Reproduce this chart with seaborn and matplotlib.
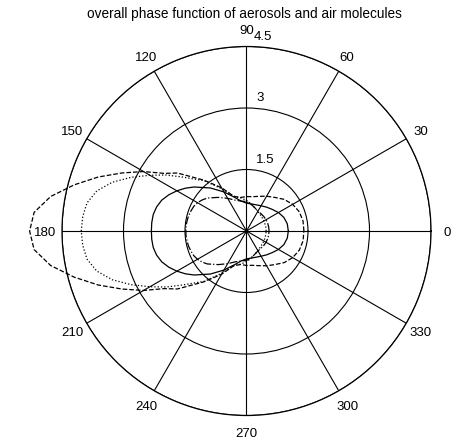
import numpy as np
import matplotlib
matplotlib.use("Agg")
import matplotlib.pyplot as plt
import seaborn as sns
import pandas as pd

sns.set_style("white")
plt.rcParams['font.family'] = ['Liberation Sans', 'DejaVu Sans']

title = "overall phase function of aerosols and air molecules"

# angles in degrees (denser sampling around 180 deg)
angles_deg = [0, 10, 20, 30, 40, 50, 60, 70, 80, 90, 100, 110, 120, 130, 140,
              145, 150, 155, 160, 165, 170, 175, 180, 185, 190, 195, 200, 205, 210, 215,
              220, 230, 240, 250, 260, 270, 280, 290, 300, 310, 320, 330, 340, 350]

solid_r = [1.02, 1.01, 0.97, 0.90, 0.82, 0.76, 0.71, 0.68, 0.67, 0.68, 0.74, 0.88, 1.10, 1.37, 1.67,
           1.82, 1.96, 2.09, 2.20, 2.27, 2.31, 2.32, 2.32, 2.32, 2.31, 2.27, 2.20, 2.09, 1.96, 1.82,
           1.67, 1.37, 1.10, 0.88, 0.74, 0.68, 0.67, 0.68, 0.71, 0.76, 0.82, 0.90, 0.97, 1.01]

dashed_r = [1.40, 1.40, 1.37, 1.30, 1.20, 1.07, 0.98, 0.90, 0.85, 0.84, 0.83, 0.90, 1.22, 1.62, 2.20,
            2.45, 2.90, 3.35, 3.85, 4.35, 4.85, 5.20, 5.29, 5.20, 4.85, 4.35, 3.85, 3.35, 2.90, 2.45,
            2.20, 1.62, 1.22, 0.90, 0.83, 0.84, 0.85, 0.90, 0.98, 1.07, 1.20, 1.30, 1.37, 1.40]

dotted_r = [0.48, 0.48, 0.48, 0.49, 0.50, 0.52, 0.55, 0.60, 0.67, 0.75, 0.82, 0.90, 1.18, 1.60, 2.05,
            2.38, 2.72, 3.10, 3.48, 3.78, 3.95, 4.01, 4.03, 4.01, 3.95, 3.78, 3.48, 3.10, 2.72, 2.38,
            2.05, 1.60, 1.18, 0.90, 0.82, 0.75, 0.67, 0.60, 0.55, 0.52, 0.50, 0.49, 0.48, 0.48]

dashdot_r = [0.55, 0.55, 0.55, 0.55, 0.55, 0.55, 0.56, 0.60, 0.66, 0.72, 0.74, 0.80, 0.92, 1.07, 1.25,
             1.32, 1.38, 1.42, 1.44, 1.46, 1.47, 1.48, 1.48, 1.48, 1.47, 1.46, 1.44, 1.42, 1.38, 1.32,
             1.25, 1.07, 0.92, 0.80, 0.74, 0.72, 0.66, 0.60, 0.56, 0.55, 0.55, 0.55, 0.55, 0.55]

ring_ticks = [1.5, 3.0, 4.5]
ring_labels = ["1.5", "3", "4.5"]
spoke_angles = [0, 30, 60, 90, 120, 150, 180, 210, 240, 270, 300, 330]
spoke_labels = ["0", "30", "60", "90", "120", "150", "180", "210", "240", "270", "300", "330"]

W, H, DPI = 452, 440, 100
fig = plt.figure(figsize=(W / DPI, H / DPI), dpi=DPI)
fig.patch.set_facecolor("white")

cx, cy, R = 246.5, 231.0, 184.5
ax = fig.add_axes([(cx - R) / W, (H - cy - R) / H, 2 * R / W, 2 * R / H], projection="polar")
ax.set_facecolor("white")

rmax = ring_ticks[-1]
ax.set_rlim(0, rmax)
ax.set_rticks(ring_ticks)
ax.set_yticklabels([])
ax.set_thetagrids(spoke_angles, [""] * len(spoke_angles))
ax.grid(True, color="black", linewidth=0.8, linestyle="-")
ax.spines["polar"].set_color("black")
ax.spines["polar"].set_linewidth(0.9)
ax.tick_params(length=0)

series = [("solid", solid_r, "-"), ("dashed", dashed_r, "--"),
          ("dotted", dotted_r, ":"), ("dashdot", dashdot_r, "-.")]
for name, vals, ls in series:
    th = np.deg2rad(angles_deg + [360])
    rr = vals + [vals[0]]
    df = pd.DataFrame({"theta": th, "r": rr})
    n_before = len(ax.lines)
    sns.lineplot(data=df, x="theta", y="r", ax=ax, sort=False, color="black",
                 linewidth=0.9, linestyle=ls, legend=False)
    for ln in ax.lines[n_before:]:
        ln.set_clip_on(False)
        ln.set_zorder(3)

ax.set_xlabel("")
ax.set_ylabel("")

# spoke labels just outside the outer ring
for a, lab in zip(spoke_angles, spoke_labels):
    ax.text(np.deg2rad(a), 1.09 * rmax, lab, ha="center", va="center_baseline",
            fontsize=9.5, clip_on=False, color="black")

# ring labels next to the 90-degree spoke
ring_dx = [9, 10, 7.5]
for rv, lab, dx in zip(ring_ticks, ring_labels, ring_dx):
    ax.annotate(lab, xy=(np.deg2rad(90), rv), xytext=(dx, 7), textcoords="offset pixels",
                ha="left", va="baseline", fontsize=9.5, annotation_clip=False, color="black")

fig.text(244.7 / W, 1 - 14 / H, title, ha="center", va="center", fontsize=9.8, color="black")

fig.savefig("out.png", dpi=DPI, facecolor="white")
